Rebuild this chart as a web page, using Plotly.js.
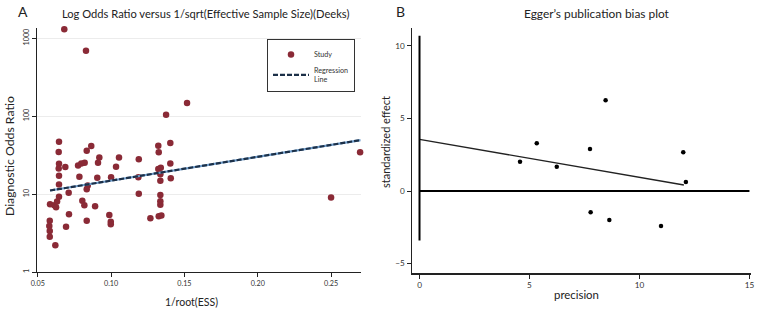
<!DOCTYPE html>
<html>
<head>
<meta charset="utf-8">
<script src="https://cdn.plot.ly/plotly-3.0.1.min.js"></script>
<style>html,body{margin:0;padding:0;background:#fff;}#chart{width:761px;height:312px;}</style>
</head>
<body>
<div id="chart"></div>
<script>
// Panel A: Deeks funnel plot data (1/root(ESS), diagnostic odds ratio)
const essInv = [
  0.0645,0.0643,0.0645,0.0643,0.0688,0.0645,0.0645,0.0645,0.0584,0.0613,
  0.0632,0.0625,0.0711,0.0582,0.0579,0.0582,0.0582,0.0620,0.0693,0.0713,
  0.0834,0.0865,0.0775,0.0797,0.0820,0.0784,0.0841,0.0834,0.0804,0.0818,
  0.0891,0.0834,0.0920,0.0911,0.0906,0.1034,0.1054,0.1000,0.0988,0.0998,
  0.0998,0.1518,0.1375,0.1404,0.1322,0.1325,0.1189,0.1404,0.1322,0.1339,
  0.1336,0.1186,0.1407,0.1336,0.1189,0.1336,0.1336,0.1336,0.1268,0.1325,
  0.1343,0.0681,0.0829,0.2698,0.2500
];
const dor = [
  47,34.5,24.5,21.3,22.2,17.2,13.3,9.2,7.4,7.2,
  8.0,6.75,10.4,4.55,3.9,3.36,2.84,2.2,3.8,5.5,
  35.9,41.2,23.3,24.7,25.2,16.7,12.9,11.5,8.2,7.2,
  6.95,4.55,29.5,25.2,16.2,22.4,29.5,16.4,5.4,4.4,
  4.1,147,104,45,41.6,34.3,27.9,24.7,20.9,21.7,
  18.0,16.4,15.9,14.8,10.1,9.7,8.1,7.3,4.9,5.2,
  5.3,1300,687,34.3,9.0
];
const regAx = [0.0584, 0.2702];
const regAy = [11.1, 49.2];
const aXTicks = [0.05, 0.10, 0.15, 0.20, 0.25];
const aYTicks = [1, 10, 100, 1000];
const aYTickText = ["1", "10", "100", "1000"];

// Panel B: Egger's plot data
const precision = [4.57,5.33,6.24,7.75,8.46,11.99,12.11,7.78,8.63,10.98];
const stdEffect = [2.02,3.29,1.68,2.90,6.25,2.67,0.62,-1.47,-2.00,-2.41];
const regBx = [0, 12.02];
const regBy = [3.56, 0.41];
const vLineY = [-3.42, 10.7];
const hLineX = [0, 15];
const bXTicks = [0, 5, 10, 15];
const bYTicks = [-5, 0, 5, 10];
const bYTickText = ['\u22125', '0', '5', '10'];

const W = 761, H = 312;
const px = v => v / W;
const py = v => 1 - v / H;
const FONT = 'Lato, "Open Sans", sans-serif';

// choose a font size so a text spans the width it has in the reference
const cv = document.createElement('canvas').getContext('2d');
function fit(text, target) {
  cv.font = '10px Lato, "Open Sans", sans-serif';
  const w = cv.measureText(text).width;
  const s = 10 * target / w;
  return Math.max(7, Math.min(13, s));
}

const traces = [
  {x: essInv, y: dor, type: 'scatter', mode: 'markers', name: 'Study',
   xaxis: 'x', yaxis: 'y', cliponaxis: false,
   marker: {color: '#8a2a36', size: 6.5}},
  {x: regAx, y: regAy, type: 'scatter', mode: 'lines', showlegend: false,
   xaxis: 'x', yaxis: 'y', hoverinfo: 'skip',
   line: {color: '#6f9dcb', width: 2.2}},
  {x: regAx, y: regAy, type: 'scatter', mode: 'lines', name: 'Regression<br>Line',
   xaxis: 'x', yaxis: 'y',
   line: {color: '#1c3048', width: 2.2, dash: '5px,2px'}},
  {x: precision, y: stdEffect, type: 'scatter', mode: 'markers', showlegend: false,
   xaxis: 'x2', yaxis: 'y2', marker: {color: '#000', size: 4.5}},
  {x: regBx, y: regBy, type: 'scatter', mode: 'lines', showlegend: false,
   xaxis: 'x2', yaxis: 'y2', line: {color: '#222', width: 1.4}},
  {x: [0, 0], y: vLineY, type: 'scatter', mode: 'lines', showlegend: false,
   xaxis: 'x2', yaxis: 'y2', line: {color: '#000', width: 2}},
  {x: hLineX, y: [0, 0], type: 'scatter', mode: 'lines', showlegend: false,
   xaxis: 'x2', yaxis: 'y2', line: {color: '#000', width: 2}}
];

const axCommon = {
  showline: true, linecolor: '#222', linewidth: 1.2, ticks: 'outside',
  ticklen: 4, tickcolor: '#222', zeroline: false
};

function ann(text, x, y, size, extra) {
  return Object.assign({text: text, x: px(x), y: py(y), xref: 'paper', yref: 'paper',
    xanchor: 'center', yanchor: 'middle', showarrow: false,
    font: {family: FONT, size: size, color: '#222'}}, extra || {});
}

const titleA = 'Log Odds Ratio versus 1/sqrt(Effective Sample Size)(Deeks)';
const titleB = 'Egger\u2019s publication bias plot';

const layout = {
  width: W, height: H,
  margin: {l: 0, r: 0, t: 0, b: 0},
  paper_bgcolor: '#fff', plot_bgcolor: '#fff',
  font: {family: FONT, color: '#222'},
  showlegend: true,
  legend: {x: px(267), y: py(39), xanchor: 'left', yanchor: 'top',
    bordercolor: '#333', borderwidth: 1, bgcolor: '#fff', itemwidth: 36,
    font: {family: FONT, size: 7.2, color: '#333'}, tracegroupgap: 0},
  xaxis: Object.assign({}, axCommon, {domain: [px(37), px(360.7)], range: [0.0495, 0.2702],
    tickvals: aXTicks, tickformat: '.2f', showgrid: false, anchor: 'y',
    tickfont: {family: FONT, size: 7.2, color: '#333'}}),
  yaxis: Object.assign({}, axCommon, {domain: [py(272), py(28)], type: 'log', range: [0, 3.13],
    tickvals: aYTicks, ticktext: aYTickText, tickangle: -90, showgrid: true,
    gridcolor: '#ececec', gridwidth: 1, anchor: 'x',
    tickfont: {family: FONT, size: 7.2, color: '#333'}}),
  xaxis2: Object.assign({}, axCommon, {domain: [px(411.7), px(751)], range: [-0.355, 15.07],
    tickvals: bXTicks, showgrid: false, anchor: 'y2',
    tickfont: {family: FONT, size: 8.2, color: '#333'}}),
  yaxis2: Object.assign({}, axCommon, {domain: [py(273.3), py(28.3)], range: [-5.676, 11.22],
    tickvals: bYTicks, ticktext: bYTickText, showgrid: false, anchor: 'x2',
    tickfont: {family: FONT, size: 8.2, color: '#333'}}),
  annotations: [
    ann('A', 23, 12, 14),
    ann('B', 400, 12, 14),
    ann(titleA, 205, 14, fit(titleA, 288)),
    ann(titleB, 597, 14, fit(titleB, 145)),
    ann('Diagnostic Odds Ratio', 9, 156, fit('Diagnostic Odds Ratio', 120), {textangle: -90}),
    ann('standardized effect', 386, 142, fit('standardized effect', 92), {textangle: -90}),
    ann('1/root(ESS)', 192, 302, fit('1/root(ESS)', 53)),
    ann('precision', 576, 294, fit('precision', 45))
  ]
};

Plotly.newPlot('chart', traces, layout, {staticPlot: true, displayModeBar: false});
</script>
</body>
</html>
